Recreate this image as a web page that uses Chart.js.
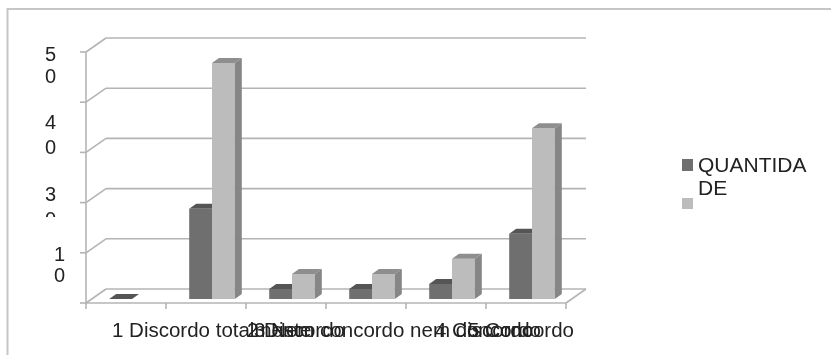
<!DOCTYPE html>
<html lang="pt">
<head>
<meta charset="utf-8">
<style>
  html, body { margin: 0; padding: 0; background: #fff; }
  #wrap { position: relative; width: 831px; height: 355px; }
</style>
<script src="https://cdn.jsdelivr.net/npm/chart.js@4"></script>
</head>
<body>
<div id="wrap"><canvas id="chart" width="831" height="355"></canvas></div>
<script>
const categories = ["", "1 Discordo totalmente", "2 Discordo", "3 Nem concordo nem discordo", "4 Concordo", "5 Concordo"];
const darkValues = [0, 18, 2, 2, 3, 13];
const lightValues = [null, 47, 5, 5, 8, 34];
const legendLines = ["QUANTIDA", "DE"];
const valueTicks = [0, 10, 20, 30, 40, 50];
const valueLabels = { 50: ["5", "0"], 40: ["4", "0"], 30: ["3", "0"], 10: ["1", "0"] };

// Oblique projection: the floor runs from the front edge back to the rear wall.
const FRONT = { dx: -6, dy: 4 };
const BACK = { dx: 20, dy: -14 };
const BAR_DEPTH = { dx: 7, dy: -5 };
const GRID = "#b4b4b4";
const INK = "#222";
const FONT = '"Liberation Sans", Arial, sans-serif';

const faceColors = [
  { front: "#6f6f6f", top: "#555555", side: "#4e4e4e" },
  { front: "#bcbcbc", top: "#8e8e8e", side: "#868686" }
];

function line(ctx, x1, y1, x2, y2) {
  ctx.beginPath();
  ctx.moveTo(x1, y1);
  ctx.lineTo(x2, y2);
  ctx.stroke();
}

function poly(ctx, pts, fill) {
  ctx.fillStyle = fill;
  ctx.beginPath();
  pts.forEach((p, i) => (i ? ctx.lineTo(p[0], p[1]) : ctx.moveTo(p[0], p[1])));
  ctx.closePath();
  ctx.fill();
}

// Walls, floor and grid sit behind the bars.
const wallsPlugin = {
  id: "walls",
  beforeDatasetsDraw(chart) {
    const { ctx, chartArea: a, scales: { y } } = chart;
    const left = a.left + FRONT.dx, right = a.right + FRONT.dx;
    const base = y.getPixelForValue(0) + FRONT.dy;
    ctx.save();
    ctx.strokeStyle = GRID;
    ctx.lineWidth = 1.6;
    valueTicks.forEach(v => {
      const py = y.getPixelForValue(v) + FRONT.dy;
      line(ctx, left - 6, py, left, py);
      line(ctx, left, py, left + BACK.dx, py + BACK.dy);
      line(ctx, left + BACK.dx, py + BACK.dy, right + BACK.dx, py + BACK.dy);
    });
    line(ctx, left, y.getPixelForValue(50) + FRONT.dy, left, base + 6);
    line(ctx, left, base, right, base);
    line(ctx, right, base, right + BACK.dx, base + BACK.dy);
    categories.forEach((_, i) => {
      const px = left + (right - left) * (i + 1) / categories.length;
      line(ctx, px, base, px, base + 6);
    });
    ctx.restore();
  }
};

function drawDepth(chart, index) {
  const { ctx } = chart;
  const c = faceColors[index];
  const { dx, dy } = BAR_DEPTH;
  const values = chart.data.datasets[index].data;
  chart.getDatasetMeta(index).data.forEach((bar, i) => {
    if (values[i] === null) return;
    const l = bar.x - bar.width / 2, r = bar.x + bar.width / 2;
    const t = bar.y, b = bar.base;
    poly(ctx, [[l, t], [r, t], [r + dx, t + dy], [l + dx, t + dy]], c.top);
    poly(ctx, [[r, t], [r + dx, t + dy], [r + dx, b + dy], [r, b]], c.side);
  });
}

// Depth faces of the dark series go under the lighter bars beside them;
// the light series gets its faces once its own fronts are painted.
const depthPlugin = {
  id: "depth",
  beforeDatasetsDraw(chart) {
    drawDepth(chart, 0);
  },
  afterDatasetDraw(chart, args) {
    if (args.index === 1) drawDepth(chart, 1);
  }
};

// Tick captions and the key, all in the chart's plain sans face.
const textPlugin = {
  id: "captions",
  afterDraw(chart) {
    const { ctx, scales: { x, y } } = chart;
    ctx.save();
    ctx.fillStyle = INK;
    ctx.textBaseline = "middle";

    ctx.font = "20px " + FONT;
    ctx.textAlign = "left";
    const lineOffsets = { 50: [7, 29], 40: [25, 50], 30: [47, 72], 10: [7, 28] };
    Object.keys(valueLabels).forEach(v => {
      const py = y.getPixelForValue(+v);
      const px = v === "10" ? 54 : 45;
      valueLabels[v].forEach((s, i) => ctx.fillText(s, px, py + lineOffsets[v][i]));
    });
    ctx.fillStyle = "#fff";
    ctx.fillRect(30, 217, 50, 26);

    ctx.fillStyle = INK;
    ctx.font = "20.5px " + FONT;
    const shifts = [0, -100, -45, -118, -17, -64];
    categories.forEach((s, i) => {
      if (s) ctx.fillText(s, x.getPixelForValue(i) + shifts[i], 331);
    });

    ctx.fillStyle = faceColors[0].front;
    ctx.fillRect(682, 159, 11, 12);
    ctx.fillStyle = faceColors[1].front;
    ctx.fillRect(682, 198, 11, 11);
    ctx.fillStyle = INK;
    ctx.font = "21px " + FONT;
    legendLines.forEach((s, i) => ctx.fillText(s, 698, 166 + i * 23));
    ctx.restore();
  }
};

// Frame along the top and left of the chart.
const framePlugin = {
  id: "frame",
  beforeDraw(chart) {
    const { ctx } = chart;
    ctx.save();
    ctx.strokeStyle = "#c6c6c6";
    ctx.lineWidth = 2;
    ctx.beginPath();
    ctx.moveTo(7.5, 355);
    ctx.lineTo(7.5, 9);
    ctx.lineTo(831, 9);
    ctx.stroke();
    ctx.restore();
  }
};

new Chart(document.getElementById("chart"), {
  type: "bar",
  data: {
    labels: categories,
    datasets: [
      { label: "QUANTIDADE", data: darkValues, backgroundColor: faceColors[0].front, barPercentage: 1, categoryPercentage: 0.57 },
      { label: "", data: lightValues, backgroundColor: faceColors[1].front, barPercentage: 1, categoryPercentage: 0.57 }
    ]
  },
  options: {
    responsive: false,
    animation: false,
    layout: { padding: { left: 92, right: 259, top: 48, bottom: 56 } },
    plugins: { legend: { display: false }, tooltip: { enabled: false } },
    scales: {
      x: { display: false },
      y: { display: false, min: 0, max: 50 }
    }
  },
  plugins: [framePlugin, wallsPlugin, depthPlugin, textPlugin]
});
</script>
</body>
</html>
